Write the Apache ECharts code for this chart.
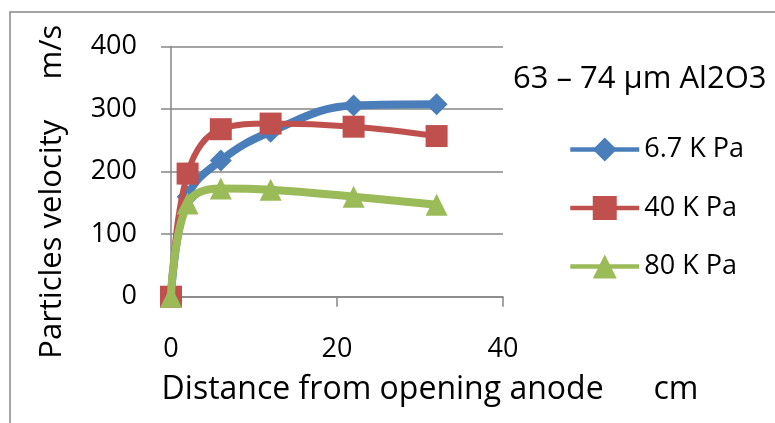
<!DOCTYPE html>
<html>
<head>
<meta charset="utf-8">
<script src="https://cdn.jsdelivr.net/npm/echarts@6/dist/echarts.min.js"></script>
<style>html,body{margin:0;padding:0;background:#fff;}#c{width:775px;height:423px;}</style>
</head>
<body>
<div id="c"></div>
<script>
var distance = [0, 2, 6, 12, 22, 32];
var v67 = [0, 160, 218, 264, 306, 308];
var v40 = [0, 197, 268, 277, 272, 257];
var v80 = [0, 149, 173, 171, 160, 147];
var seriesNames = ['6.7 K Pa', '40 K Pa', '80 K Pa'];
var yTicks = [0, 100, 200, 300, 400];
var xTicks = [0, 20, 40];

function pairs(ys) { return distance.map(function (x, i) { return [x, ys[i]]; }); }

var FONT = 'Open Sans';
var GRAY = '#868686';
var colors = ['#4A7EBB', '#C0504D', '#9BBB59'];
var symbols = ['diamond', 'rect', 'triangle'];
var widths = [8, 6, 8];
var values = [v67, v40, v80];

var chart = echarts.init(document.getElementById('c'), null, { renderer: 'canvas' });
chart.setOption({
  animation: false,
  textStyle: { fontFamily: FONT },
  title: {
    text: '63 – 74 µm Al2O3',
    left: 513, top: 62, padding: 0,
    textStyle: { fontFamily: FONT, fontSize: 31, fontWeight: 'normal', color: '#000', lineHeight: 34 }
  },
  graphic: [{
    type: 'rect', silent: true, z: -10,
    shape: { x: 10, y: 12, width: 800, height: 450 },
    style: { fill: null, stroke: GRAY, lineWidth: 1.5 }
  }],
  legend: {
    orient: 'vertical', left: 568, top: 136, padding: 0,
    itemWidth: 69, itemHeight: 30, itemGap: 31.5,
    lineStyle: { width: 4.5 },
    textStyle: { fontFamily: FONT, fontSize: 27, color: '#000', lineHeight: 26 },
    data: seriesNames
  },
  grid: { left: 171, right: 272, top: 46.7, bottom: 126.3, containLabel: false },
  xAxis: {
    type: 'value', min: xTicks[0], max: xTicks[xTicks.length - 1], interval: 20,
    name: 'Distance from opening anode      cm',
    nameLocation: 'middle', nameGap: 93,
    nameTextStyle: { fontFamily: FONT, fontSize: 32, color: '#000', verticalAlign: 'middle', padding: [0, 0, 0, 186] },
    axisLine: { show: true, lineStyle: { color: GRAY, width: 1.5 } },
    axisTick: { show: true, inside: false, length: 10, lineStyle: { color: GRAY, width: 1.5 } },
    axisLabel: { margin: 39, fontFamily: FONT, fontSize: 27, color: '#000' },
    splitLine: { show: false }
  },
  yAxis: {
    type: 'value', min: yTicks[0], max: yTicks[yTicks.length - 1], interval: 100,
    name: 'Particles velocity     m/s',
    nameLocation: 'middle', nameGap: 119,
    nameTextStyle: { fontFamily: FONT, fontSize: 31, color: '#000', verticalAlign: 'middle', padding: [0, 40, 0, 0] },
    axisLine: { show: true, lineStyle: { color: GRAY, width: 1.5 } },
    axisTick: { show: true, inside: false, length: 10, lineStyle: { color: GRAY, width: 1.5 } },
    axisLabel: { margin: 34, fontFamily: FONT, fontSize: 27, color: '#000' },
    splitLine: { show: true, lineStyle: { color: GRAY, width: 1.5 } }
  },
  series: seriesNames.map(function (n, i) {
    return {
      name: n, type: 'line', smooth: 0.4,
      data: pairs(values[i]),
      symbol: symbols[i], symbolSize: 22,
      lineStyle: { color: colors[i], width: widths[i] },
      itemStyle: { color: colors[i] },
      z: 2 + i
    };
  })
});
</script>
</body>
</html>
